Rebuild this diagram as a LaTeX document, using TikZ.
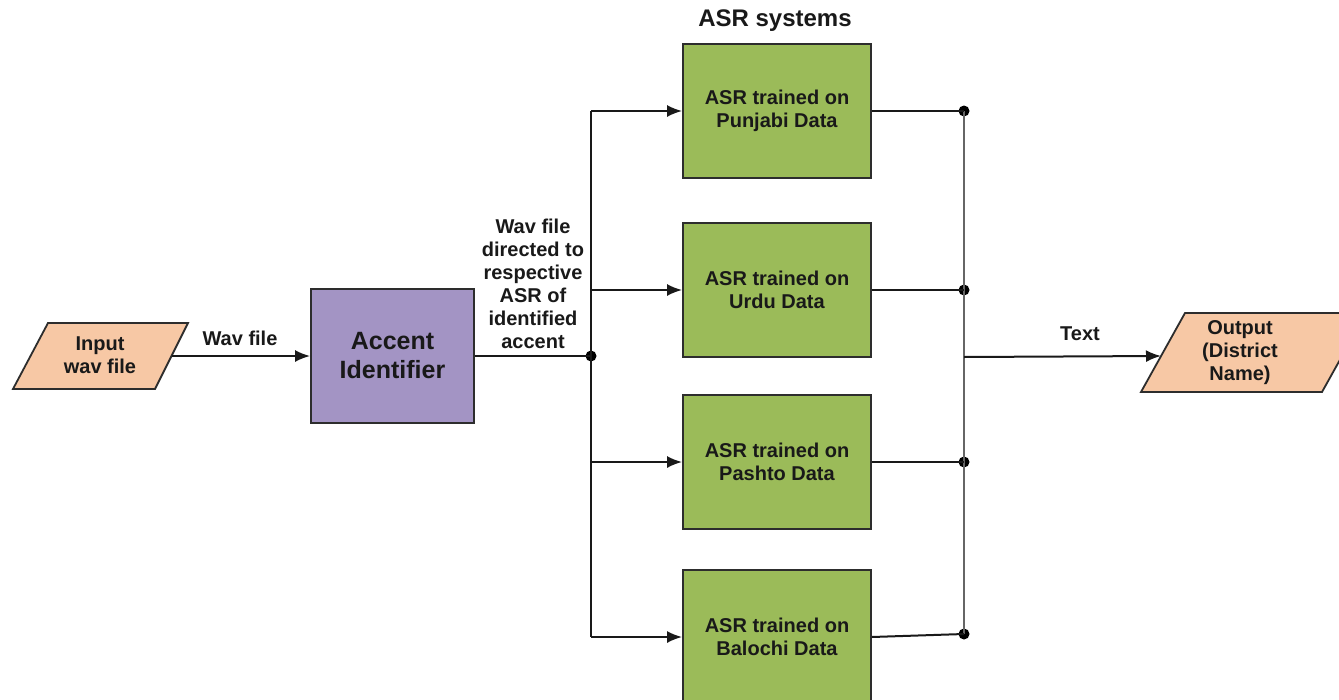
\documentclass[tikz,border=0pt]{standalone}
\usepackage{fontspec}
\setmainfont{Liberation Sans}
\usetikzlibrary{arrows.meta}
\definecolor{peach}{RGB}{247,200,165}
\definecolor{olive}{RGB}{155,187,89}
\definecolor{lilac}{RGB}{163,148,196}
\definecolor{edge}{RGB}{45,45,45}
\tikzset{
  lbl/.style={font=\bfseries\fontsize{20}{23}\selectfont, align=center, text=black!90, inner sep=0pt},
  asrbox/.style={draw=edge, line width=1.8pt, fill=olive, minimum width=188pt, minimum height=134pt, inner sep=0pt,
     font=\bfseries\fontsize{20}{22.5}\selectfont, align=center, text=black!90},
  accbox/.style={draw=edge, line width=1.8pt, fill=lilac, minimum width=163pt, minimum height=134pt, inner sep=0pt,
     font=\bfseries\fontsize{25}{29}\selectfont, align=center, text=black!90},
  iobox/.style={draw=edge, line width=1.8pt, fill=peach},
  conn/.style={line width=2pt, draw=black!90},
  arr/.style={conn, -{Latex[length=15pt,width=12pt]}},
  bus/.style={line width=2.4pt, draw=black!60},
  dot/.style={circle, fill=black, inner sep=0pt, minimum size=11pt}
}
\begin{document}
\begin{tikzpicture}[x=1pt,y=-1pt]
\useasboundingbox (0,0) rectangle (1339,699);
\clip (0,0) rectangle (1339,699);
\fill[white] (0,0) rectangle (1339,699);
% input
\draw[iobox] (13,389) -- (48,323) -- (188,323) -- (155,389) -- cycle;
\node[lbl] (inp) at (100,355) {Input\\wav file};
\coordinate (inpR) at (172,356);
% accent identifier
\node[accbox] (acc) at (392.5,356) {Accent\\Identifier};
\draw[arr] (inpR) -- (acc.west);
\node[lbl] (wavlbl) at (240,338) {Wav file};
% junction
\node[dot] (j1) at (591,356) {};
\draw[conn] (acc.east) -- (j1.center);
\node[lbl] (dirlbl) at (533,284) {Wav file\\directed to\\respective\\ASR of\\identified\\accent};
% ASR boxes
\node[lbl, font=\bfseries\fontsize{24}{26}\selectfont] (title) at (775,21) {ASR systems};
\node[asrbox] (pun) at (777,111) {ASR trained on\\Punjabi Data};
\node[asrbox] (urd) at (777,290) {ASR trained on\\Urdu Data};
\node[asrbox] (pas) at (777,462) {ASR trained on\\Pashto Data};
\node[asrbox] (bal) at (777,637) {ASR trained on\\Balochi Data};
\coordinate (jp) at (591,111);
\coordinate (jb) at (591,637);
\draw[conn] (jp) -- (jb);
\draw[arr] (jp) -- (pun.west);
\draw[arr] (591,290) -- (urd.west);
\draw[arr] (591,462) -- (pas.west);
\draw[arr] (jb) -- (bal.west);
% output bus
\node[dot] (d1) at (964,111) {};
\node[dot] (d2) at (964,290) {};
\node[dot] (d3) at (964,462) {};
\node[dot] (d4) at (964,634) {};
\draw[bus] (d1.center) -- (d4.center);
\draw[conn] (pun.east) -- (d1.center);
\draw[conn] (urd.east) -- (d2.center);
\draw[conn] (pas.east) -- (d3.center);
\draw[conn] (bal.east) -- (d4.center);
% output
\draw[iobox] (1141,392) -- (1185,313) -- (1366,313) -- (1322,392) -- cycle;
\node[lbl] (out) at (1240,353) {Output\\(District\\Name)};
\coordinate (outL) at (1161,356);
\coordinate (tap) at (964,357);
\draw[arr] (tap) -- (outL);
\node[lbl] (txt) at (1080,334) {Text};
\end{tikzpicture}
\end{document}
